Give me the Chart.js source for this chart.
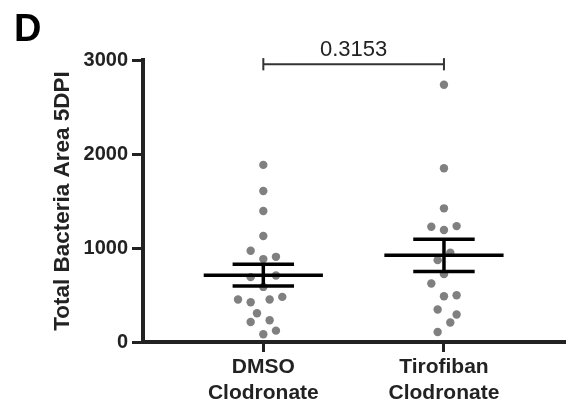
<!DOCTYPE html>
<html>
<head>
<meta charset="utf-8">
<script src="https://cdn.jsdelivr.net/npm/chart.js@4"></script>
<style>
  html, body { margin: 0; padding: 0; background: #fff; }
  #wrap { width: 570px; height: 404px; }
</style>
</head>
<body>
<div id="wrap"><canvas id="grafico"></canvas></div>
<script>
const categorias = [['DMSO', 'Clodronate'], ['Tirofiban', 'Clodronate']];
const dmso = [1884, 1607, 1393, 1127, 970, 882, 906, 690, 708, 586, 452, 423, 452, 480, 306, 213, 231, 82, 121];
const dmsoColuna = [0, 0, 0, 0, -1, 0, 1, -1, 1, 0, -2, -1, 0.5, 1.5, -0.5, -1, 0.5, 0, 1];
const tirofiban = [2737, 1848, 1422, 1226, 1191, 1233, 949, 871, 722, 623, 487, 498, 345, 292, 207, 107];
const tirofibanColuna = [0, 0, 0, -1, 0, 1, 0.5, -0.5, 0, -1, 0, 1, -0.5, 1, 0.5, -0.5];
const yTicks = [0, 1000, 2000, 3000];
const pValor = '0.3153';
const bracketY = 2955;

const fonte = '"Liberation Sans", Arial, Helvetica, sans-serif';
const corTexto = '#222';
const passoColuna = 0.07; // distancia entre colunas de pontos (unidades do eixo x)

function media(v) { return v.reduce((a, b) => a + b, 0) / v.length; }
function sem(v) {
    const m = media(v);
    const sd = Math.sqrt(v.reduce((a, b) => a + (b - m) ** 2, 0) / (v.length - 1));
    return sd / Math.sqrt(v.length);
}

function pontos(valores, colunas, grupo) {
    return valores.map((v, i) => ({ x: grupo + colunas[i] * passoColuna, y: v }));
}

function segmento(x1, y1, x2, y2, largura, cor, clip) {
    return {
        type: 'line',
        data: [{ x: x1, y: y1 }, { x: x2, y: y2 }],
        borderColor: cor,
        borderWidth: largura,
        pointRadius: 0,
        pointHoverRadius: 0,
        fill: false,
        clip: clip ? false : undefined
    };
}

function linhasMedia(valores, grupo) {
    const m = media(valores), e = sem(valores);
    return [
        segmento(grupo - 0.33, m, grupo + 0.33, m, 3.5, '#000'),
        segmento(grupo - 0.17, m + e, grupo + 0.17, m + e, 3.5, '#000'),
        segmento(grupo - 0.17, m - e, grupo + 0.17, m - e, 3.5, '#000'),
        segmento(grupo, m - e, grupo, m + e, 3.5, '#000')
    ];
}

const textoExtra = {
    id: 'textoExtra',
    afterDraw(chart) {
        const ctx = chart.ctx;
        const xs = chart.scales.x, ys = chart.scales.y;
        ctx.save();
        ctx.fillStyle = '#000';
        ctx.font = 'bold 38px ' + fonte;
        ctx.textAlign = 'left';
        ctx.textBaseline = 'alphabetic';
        ctx.fillText('D', 14, 41);
        ctx.fillStyle = corTexto;
        ctx.font = '22px ' + fonte;
        ctx.textAlign = 'center';
        ctx.fillText(pValor, xs.getPixelForValue(1.5), ys.getPixelForValue(bracketY) - 8);
        ctx.restore();
    }
};

new Chart(document.getElementById('grafico'), {
    type: 'scatter',
    data: {
        datasets: [
            ...linhasMedia(dmso, 1),
            ...linhasMedia(tirofiban, 2),
            segmento(1, bracketY, 2, bracketY, 2, '#333', true),
            segmento(1, bracketY - 65, 1, bracketY + 65, 2, '#333', true),
            segmento(2, bracketY - 65, 2, bracketY + 65, 2, '#333', true),
            {
                data: pontos(dmso, dmsoColuna, 1),
                backgroundColor: '#808080',
                borderWidth: 0,
                pointRadius: 4.2,
                pointHoverRadius: 4.2
            },
            {
                data: pontos(tirofiban, tirofibanColuna, 2),
                backgroundColor: '#808080',
                borderWidth: 0,
                pointRadius: 4.2,
                pointHoverRadius: 4.2
            }
        ]
    },
    options: {
        responsive: true,
        maintainAspectRatio: false,
        animation: false,
        layout: { padding: { top: 60, right: 5, bottom: 0, left: 0 } },
        plugins: {
            legend: { display: false },
            tooltip: { enabled: false }
        },
        scales: {
            x: {
                type: 'linear',
                min: 0.334,
                max: 2.67,
                afterBuildTicks: s => { s.ticks = [{ value: 1 }, { value: 2 }]; },
                afterFit: s => { s.height = 62; },
                ticks: {
                    autoSkip: false,
                    maxRotation: 0,
                    padding: 3,
                    color: corTexto,
                    font: { family: fonte, size: 21, weight: 'bold' },
                    callback: (v, i) => categorias[i]
                },
                grid: {
                    drawOnChartArea: false,
                    tickLength: 10,
                    tickWidth: 3,
                    tickColor: corTexto
                },
                border: { color: corTexto, width: 4 }
            },
            y: {
                min: 0,
                max: 3000,
                afterBuildTicks: s => { s.ticks = yTicks.map(v => ({ value: v })); },
                afterFit: s => { s.width = 143; },
                ticks: {
                    padding: 4,
                    color: corTexto,
                    font: { family: fonte, size: 20, weight: 'bold' },
                    callback: v => String(v)
                },
                grid: {
                    drawOnChartArea: false,
                    tickLength: 11,
                    tickWidth: 3,
                    tickColor: corTexto
                },
                border: { color: corTexto, width: 4 },
                title: {
                    display: true,
                    text: 'Total Bacteria Area 5DPI',
                    color: corTexto,
                    font: { family: fonte, size: 22.5, weight: 'bold' },
                    padding: { top: 49, bottom: 0 }
                }
            }
        }
    },
    plugins: [textoExtra]
});
</script>
</body>
</html>
